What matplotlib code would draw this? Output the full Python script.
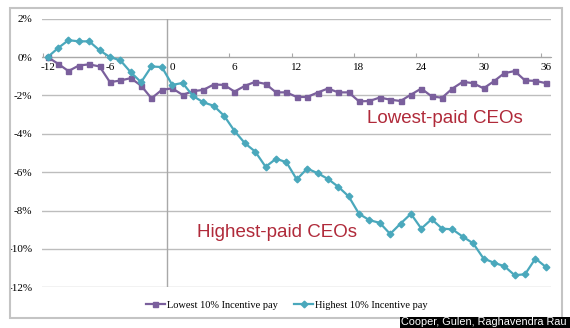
import matplotlib
matplotlib.use("Agg")
import matplotlib.pyplot as plt
from matplotlib.patches import Rectangle
import numpy as np

# months relative to CEO appointment
months = np.arange(-12, 37)

# cumulative abnormal return (%), bottom decile of incentive pay
lowest = [0.00, -0.35, -0.73, -0.44, -0.38, -0.49, -1.31, -1.22, -1.10, -1.49,
          -2.15, -1.71, -1.63, -1.97, -1.78, -1.71, -1.43, -1.45, -1.80, -1.50,
          -1.29, -1.40, -1.84, -1.84, -2.08, -2.08, -1.85, -1.64, -1.84, -1.84,
          -2.31, -2.29, -2.11, -2.22, -2.29, -1.96, -1.64, -2.05, -2.12, -1.64,
          -1.29, -1.36, -1.63, -1.26, -0.84, -0.73, -1.22, -1.24, -1.36]

# top decile of incentive pay
highest = [0.00, 0.47, 0.88, 0.82, 0.82, 0.35, 0.00, -0.17, -0.79, -1.31,
           -0.49, -0.52, -1.45, -1.35, -2.03, -2.36, -2.54, -3.06, -3.85, -4.49,
           -4.93, -5.72, -5.30, -5.48, -6.38, -5.81, -6.05, -6.35, -6.76, -7.26,
           -8.17, -8.50, -8.64, -9.22, -8.68, -8.17, -8.94, -8.45, -8.94, -8.98,
           -9.36, -9.71, -10.50, -10.72, -10.90, -11.37, -11.32, -10.50, -10.94]

month_ticks = [-12, -6, 0, 6, 12, 18, 24, 30, 36]
pct_ticks = [2, 0, -2, -4, -6, -8, -10, -12]

purple = '#7a5f9c'
teal = '#4aa8bc'
red = '#b02a3a'

fig = plt.figure(figsize=(5.7, 3.28), dpi=100)
ax = fig.add_axes([42/570, 1 - 287.3/328, 509/570, (287.3 - 18.7)/328])

ax.set_xlim(-12.55, 36.5)
ax.set_ylim(-12, 2)

for v in pct_ticks:
    ax.axhline(v, color='#bdbdbd', lw=1.0, zorder=0)
ax.axvline(-0.5, color='#a8a8a8', lw=1.0, zorder=0)

ax.plot(months, lowest, color=purple, lw=1.6, marker='s', ms=3.6,
        label='Lowest 10% Incentive pay', zorder=3)
ax.plot(months, highest, color=teal, lw=1.6, marker='D', ms=3.4,
        label='Highest 10% Incentive pay', zorder=3)

for s in ['top', 'right', 'left']:
    ax.spines[s].set_visible(False)
ax.spines['bottom'].set_position(('data', 0))
ax.spines['bottom'].set_color('#a8a8a8')

# tick marks sit between categories, labels on the categories
ax.set_xticks([m - 0.5 for m in month_ticks])
ax.set_xticklabels([])
ax.tick_params(axis='x', which='major', length=3, color='#a8a8a8', direction='in')
ax.set_xticks(month_ticks, minor=True)
ax.set_xticklabels([str(m) for m in month_ticks], minor=True,
                   family='Liberation Serif', fontsize=8)
ax.tick_params(axis='x', which='minor', length=0, pad=4)

ax.set_yticks(pct_ticks)
ax.set_yticklabels([f'{v}%' for v in pct_ticks], family='Liberation Serif', fontsize=8)
ax.tick_params(axis='y', length=0, pad=7)

ax.text(26.3, -3.2, 'Lowest-paid CEOs', color=red, fontsize=13.5,
        family='Liberation Sans', ha='center', va='center')
ax.text(10.1, -9.13, 'Highest-paid CEOs', color=red, fontsize=13.5,
        family='Liberation Sans', ha='center', va='center')

fig.legend(loc='center', bbox_to_anchor=(287/570, 1 - 305/328), ncol=2,
           frameon=False, prop={'family': 'Liberation Serif', 'size': 7.5},
           handlelength=1.8, handletextpad=0.2, columnspacing=1.6)

# chart border
fig.patches.append(Rectangle((10/570, 1 - 318/328), 552/570, 310/328,
                             transform=fig.transFigure, fill=False,
                             edgecolor='#c4c4c4', lw=1.5))

# source credit
fig.patches.append(Rectangle((400/570, 0), 170/570, 11.5/328,
                             transform=fig.transFigure, facecolor='black',
                             edgecolor='none', zorder=5))
fig.text(484/570, 5.8/328, 'Cooper, Gulen, Raghavendra Rau', color='white',
         fontsize=7.8, family='Liberation Sans', ha='center', va='center', zorder=6)

fig.savefig('out.png', dpi=100)
